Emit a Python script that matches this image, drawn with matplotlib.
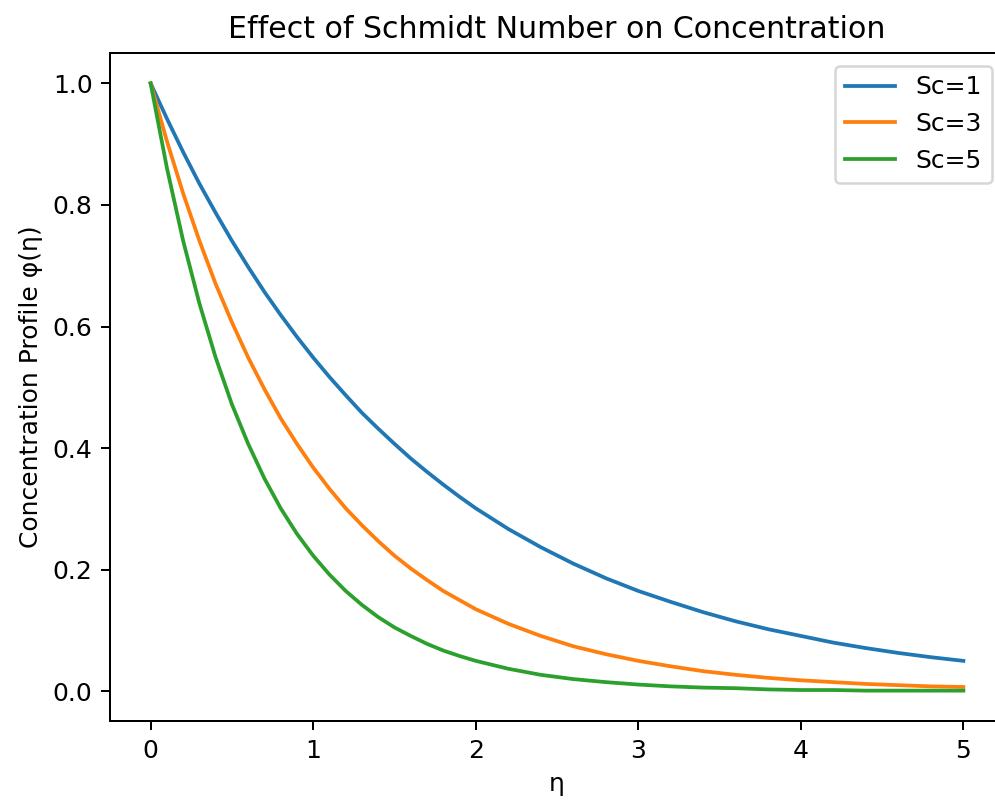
import matplotlib
matplotlib.use("Agg")
import matplotlib.pyplot as plt

# values
eta = [0.0, 0.1, 0.2, 0.3, 0.4, 0.5, 0.6, 0.7, 0.8, 0.9, 1.0,
       1.1, 1.2, 1.3, 1.4, 1.5, 1.6, 1.7, 1.8, 1.9, 2.0,
       2.2, 2.4, 2.6, 2.8, 3.0, 3.2, 3.4, 3.6, 3.8, 4.0,
       4.2, 4.4, 4.6, 4.8, 5.0]

phi_sc1 = [1.000, 0.942, 0.887, 0.835, 0.787, 0.741, 0.698, 0.657, 0.619, 0.583, 0.549,
           0.517, 0.487, 0.458, 0.432, 0.407, 0.383, 0.361, 0.340, 0.320, 0.301,
           0.267, 0.237, 0.210, 0.186, 0.165, 0.147, 0.130, 0.115, 0.102, 0.091,
           0.080, 0.071, 0.063, 0.056, 0.050]
phi_sc3 = [1.000, 0.905, 0.819, 0.741, 0.670, 0.607, 0.549, 0.497, 0.449, 0.407, 0.368,
           0.333, 0.301, 0.273, 0.247, 0.223, 0.202, 0.183, 0.165, 0.150, 0.135,
           0.111, 0.091, 0.074, 0.061, 0.050, 0.041, 0.033, 0.027, 0.022, 0.018,
           0.015, 0.012, 0.010, 0.008, 0.007]
phi_sc5 = [1.000, 0.861, 0.741, 0.638, 0.549, 0.472, 0.407, 0.350, 0.301, 0.259, 0.223,
           0.192, 0.165, 0.142, 0.122, 0.105, 0.091, 0.078, 0.067, 0.058, 0.050,
           0.037, 0.027, 0.020, 0.015, 0.011, 0.008, 0.006, 0.005, 0.003, 0.002,
           0.002, 0.001, 0.001, 0.001, 0.001]

series = [("Sc=1", phi_sc1), ("Sc=3", phi_sc3), ("Sc=5", phi_sc5)]

fig = plt.figure(figsize=(995 / 180, 801 / 180), dpi=180)
# the reference is cropped: the right spine falls just outside the picture
ax = fig.add_axes([110 / 995, 80 / 801, 894 / 995, 668 / 801])

for name, phi in series:
    ax.plot(eta, phi, label=name)

ax.set_xlim(-0.25, 5.25)
ax.set_title("Effect of Schmidt Number on Concentration")
ax.set_xlabel("η")
ax.set_ylabel("Concentration Profile φ(η)")
ax.legend(loc="upper right")

fig.savefig("out.png", dpi=180)
